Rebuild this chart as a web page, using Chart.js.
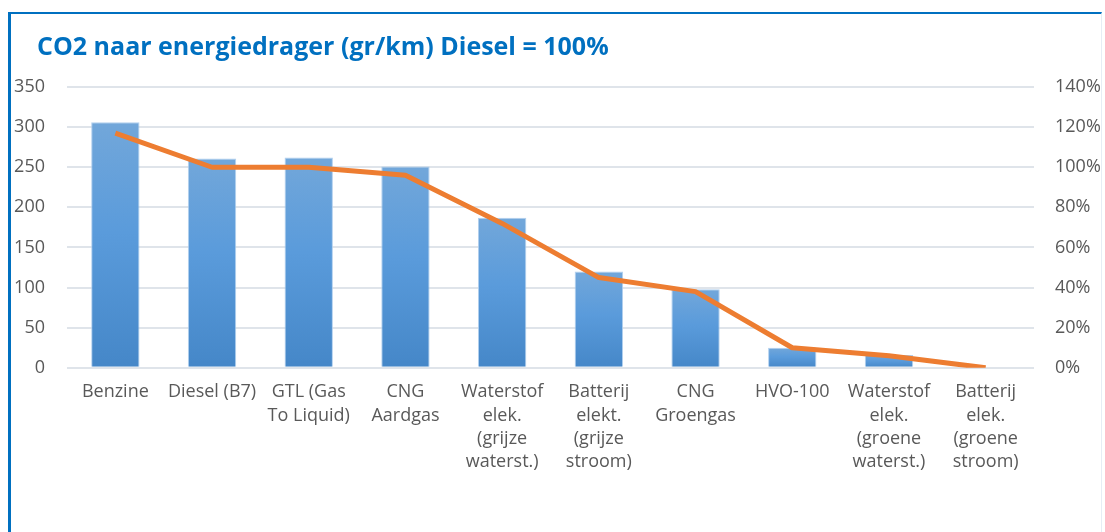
<!DOCTYPE html>
<html>
<head>
<meta charset="utf-8">
<script src="https://cdn.jsdelivr.net/npm/chart.js@4.4.1/dist/chart.umd.min.js"></script>
<style>
  html, body { margin: 0; padding: 0; background: #ffffff; }
  body { width: 1105px; height: 532px; overflow: hidden; position: relative; }
  #frame {
    position: absolute; left: 8px; top: 12px; width: 1094px; height: 520px;
    border-left: 3px solid #0070C0; border-top: 2px solid #0070C0;
    border-right: 1px solid #e6edf5;
    box-sizing: border-box;
  }
  #wrap { position: absolute; left: 0; top: 0; width: 1090px; height: 518px; }
</style>
</head>
<body>
<div id="frame"><div id="wrap"><canvas id="c" width="1090" height="518"></canvas></div></div>
<script>
const categories = [
  ["Benzine"],
  ["Diesel (B7)"],
  ["GTL (Gas", "To Liquid)"],
  ["CNG", "Aardgas"],
  ["Waterstof", "elek.", "(grijze", "waterst.)"],
  ["Batterij", "elekt.", "(grijze", "stroom)"],
  ["CNG", "Groengas"],
  ["HVO-100"],
  ["Waterstof", "elek.", "(groene", "waterst.)"],
  ["Batterij", "elek.", "(groene", "stroom)"]
];
const co2GrPerKm = [306, 261, 262, 251, 187, 120, 98, 25, 16, 0];
const dieselPercent = [117, 100, 100, 96, 72, 45, 38, 10, 6, 0];
const leftAxisMax = 350;
const leftAxisStep = 50;
const rightAxisMax = 140;
const rightAxisStep = 20;
const titleText = "CO2 naar energiedrager (gr/km) Diesel = 100%";

const labelColor = "#595959";
const gridColor = "#dfe4ea";
const fontFamily = "'Open Sans', 'DejaVu Sans', sans-serif";

function barGradient(ctx) {
  const chart = ctx.chart;
  const area = chart.chartArea;
  if (!area || ctx.type !== 'data') return '#5b9bd5';
  const ys = chart.scales.y;
  const top = ys.getPixelForValue(ctx.parsed.y);
  const base = ys.getPixelForValue(0);
  if (!(base - top > 0.5)) return '#5b9bd5';
  const g = chart.ctx.createLinearGradient(0, top, 0, base);
  g.addColorStop(0, '#72a7da');
  g.addColorStop(0.45, '#5a9bdb');
  g.addColorStop(1, '#4587c8');
  return g;
}

const titleIndent = {
  id: 'titleIndent',
  afterLayout(chart) {
    if (chart.titleBlock) chart.titleBlock.left += 26;
  }
};

new Chart(document.getElementById('c'), {
  data: {
    labels: categories,
    datasets: [
      {
        type: 'line',
        data: dieselPercent,
        yAxisID: 'y2',
        borderColor: '#ED7D31',
        borderWidth: 5,
        pointRadius: 0,
        tension: 0,
        borderJoinStyle: 'round',
        borderCapStyle: 'butt',
        order: 0
      },
      {
        type: 'bar',
        data: co2GrPerKm,
        yAxisID: 'y',
        backgroundColor: barGradient,
        borderColor: 'rgba(170,203,236,0.9)',
        borderWidth: 1,
        categoryPercentage: 1,
        barPercentage: 0.5,
        order: 1
      }
    ]
  },
  plugins: [titleIndent],
  options: {
    responsive: false,
    animation: false,
    devicePixelRatio: 1,
    layout: { padding: { left: 0, right: 0, top: 0, bottom: 46 } },
    plugins: {
      legend: { display: false },
      tooltip: { enabled: false },
      title: {
        display: true,
        text: titleText,
        align: 'start',
        color: '#0070C0',
        font: { family: fontFamily, size: 25, weight: 'bold' },
        padding: { top: 19, bottom: 24 }
      }
    },
    scales: {
      x: {
        grid: { display: false, drawTicks: false },
        border: { display: false },
        ticks: {
          color: labelColor,
          font: { family: fontFamily, size: 18, lineHeight: 1.28 },
          maxRotation: 0,
          autoSkip: false,
          padding: 13
        }
      },
      y: {
        position: 'left',
        min: 0,
        max: leftAxisMax,
        grid: { color: gridColor, lineWidth: 2, drawTicks: false },
        border: { display: false },
        ticks: {
          stepSize: leftAxisStep,
          color: labelColor,
          font: { family: fontFamily, size: 18 },
          padding: 22
        },
        afterFit(scale) { scale.width = 56; }
      },
      y2: {
        position: 'right',
        min: 0,
        max: rightAxisMax,
        grid: { drawOnChartArea: false, drawTicks: false },
        border: { display: false },
        ticks: {
          stepSize: rightAxisStep,
          color: labelColor,
          font: { family: fontFamily, size: 18 },
          padding: 21,
          callback: (v) => v + '%'
        },
        afterFit(scale) { scale.width = 67; }
      }
    }
  }
});
</script>
</body>
</html>
